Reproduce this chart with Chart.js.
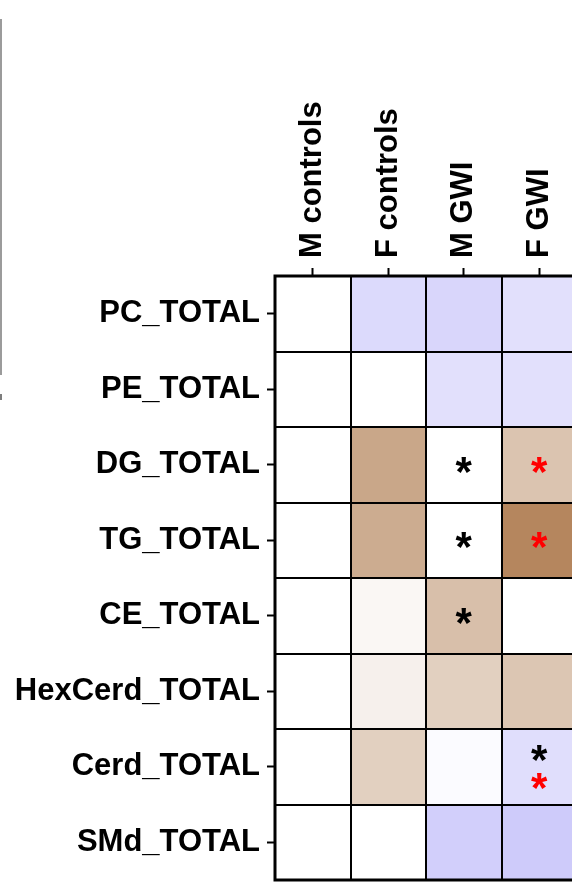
<!DOCTYPE html>
<html>
<head>
<meta charset="utf-8">
<script src="https://cdn.jsdelivr.net/npm/chart.js@4.4.1/dist/chart.umd.min.js"></script>
<style>
  html, body { margin: 0; padding: 0; background: #fff; overflow: hidden; }
  #wrap { position: relative; width: 572px; height: 882px; overflow: hidden; }
  #heat { position: absolute; left: 0; top: 0; }
  .edge { position: absolute; left: 0; width: 2px; }
</style>
</head>
<body>
<div id="wrap">
  <div class="edge" style="top:19px;height:356px;background:#9b9b9b"></div>
  <div class="edge" style="top:394px;height:6px;background:#7d7d7d"></div>
  <canvas id="heat" width="584" height="882"></canvas>
</div>
<script>
// Lipid classes (rows) and groups (columns)
const lipidClasses = ['PC_TOTAL', 'PE_TOTAL', 'DG_TOTAL', 'TG_TOTAL', 'CE_TOTAL', 'HexCerd_TOTAL', 'Cerd_TOTAL', 'SMd_TOTAL'];
const groups = ['M controls', 'F controls', 'M GWI', 'F GWI'];

// Relative change vs. male controls, one array per group (same order as lipidClasses)
const mControls = [0, 0, 0, 0, 0, 0, 0, 0];
const fControls = [-0.57, 0, 0.73, 0.69, 0.07, 0.12, 0.39, 0];
const mGWI      = [-0.63, -0.48, 0, 0, 0.53, 0.39, -0.06, -0.74];
const fGWI      = [-0.48, -0.47, 0.49, 1.0, 0, 0.47, -0.51, -0.80];

// Significance markers per group: black = vs. controls, red = vs. opposite sex
const blackMarks = [[], [], [2, 3, 4], [6]];
const redMarks   = [[], [], [], [2, 3, 6]];

const groupValues = [mControls, fControls, mGWI, fGWI];

const UP = [181, 134, 94];    // colour at +1
const DOWN = [194, 190, 249]; // colour at -1
function cellColor(v) {
  const end = v >= 0 ? UP : DOWN;
  const t = Math.min(1, Math.abs(v));
  const c = end.map(e => Math.round(255 + (e - 255) * t));
  return `rgb(${c[0]},${c[1]},${c[2]})`;
}

const FONT = "'Liberation Sans', Arial, sans-serif";
const LABEL_SIZE = 31;
const LABEL_LINE = 1.2;

const datasets = groupValues.map((vals, c) => ({
  label: groups[c],
  data: lipidClasses.map(() => [c, c + 1]),
  backgroundColor: vals.map(cellColor),
  borderWidth: 0,
  borderSkipped: false,
  grouped: false,
  barPercentage: 1,
  categoryPercentage: 1,
  inflateAmount: 0.5,
  xAxisID: 'x',
  yAxisID: 'y'
}));

// Cell separators and outer frame, placed on the cell edges
const framePlugin = {
  id: 'frame',
  afterDatasetsDraw(chart) {
    const { ctx, chartArea: a } = chart;
    ctx.save();
    ctx.strokeStyle = '#000';
    ctx.lineWidth = 2;
    ctx.beginPath();
    for (let c = 1; c < groups.length; c++) {
      const x = Math.round(chart.getDatasetMeta(c).data[0].base);
      ctx.moveTo(x, a.top);
      ctx.lineTo(x, a.bottom);
    }
    const firstCol = chart.getDatasetMeta(0).data;
    for (let r = 1; r < lipidClasses.length; r++) {
      const bar = firstCol[r];
      const y = Math.round(bar.y - bar.height / 2);
      ctx.moveTo(a.left, y);
      ctx.lineTo(a.right, y);
    }
    ctx.stroke();
    ctx.lineWidth = 3;
    ctx.strokeRect(a.left, a.top, a.right - a.left, a.bottom - a.top);
    ctx.restore();
  }
};

// Asterisks centred on their cells
const starPlugin = {
  id: 'stars',
  afterDatasetsDraw(chart) {
    const { ctx } = chart;
    ctx.save();
    ctx.font = `bold 42px ${FONT}`;
    ctx.textAlign = 'center';
    ctx.textBaseline = 'alphabetic';
    const m = ctx.measureText('*');
    const shift = (m.actualBoundingBoxAscent - m.actualBoundingBoxDescent) / 2;
    groups.forEach((g, c) => {
      const bars = chart.getDatasetMeta(c).data;
      lipidClasses.forEach((name, r) => {
        const hasBlack = blackMarks[c].includes(r);
        const hasRed = redMarks[c].includes(r);
        if (!hasBlack && !hasRed) return;
        const p = bars[r].getCenterPoint();
        const both = hasBlack && hasRed;
        if (hasBlack) {
          ctx.fillStyle = '#000';
          ctx.fillText('*', p.x, p.y + shift - (both ? 14 : 0));
        }
        if (hasRed) {
          ctx.fillStyle = '#ff0000';
          ctx.fillText('*', p.x, p.y + shift + (both ? 14 : 0));
        }
      });
    });
    ctx.restore();
  }
};

new Chart(document.getElementById('heat'), {
  type: 'bar',
  data: { labels: lipidClasses, datasets },
  options: {
    indexAxis: 'y',
    responsive: false,
    devicePixelRatio: 1,
    animation: false,
    layout: { padding: { top: 0, right: 7, bottom: 2, left: 0 } },
    plugins: { legend: { display: false }, tooltip: { enabled: false } },
    scales: {
      x: { type: 'linear', min: 0, max: 4, display: false },
      top: {
        type: 'category',
        position: 'top',
        labels: groups,
        offset: true,
        grid: { display: true, offset: false, drawOnChartArea: false, drawTicks: true, tickLength: 8, tickWidth: 2, tickColor: '#000' },
        border: { display: false },
        ticks: {
          minRotation: 90, maxRotation: 90, padding: 10, color: '#000',
          // rotated labels on a top axis sit one line height before their tick
          labelOffset: LABEL_SIZE * LABEL_LINE,
          font: { family: FONT, weight: 'bold', size: LABEL_SIZE, lineHeight: LABEL_LINE }
        },
        afterFit(s) { s.height = 276; s.paddingLeft = 0; s.paddingRight = 0; }
      },
      y: {
        type: 'category',
        position: 'left',
        offset: true,
        grid: { display: true, offset: false, drawOnChartArea: false, drawTicks: true, tickLength: 8, tickWidth: 2, tickColor: '#000' },
        border: { display: false },
        ticks: { padding: 7, color: '#000', font: { family: FONT, weight: 'bold', size: LABEL_SIZE, lineHeight: LABEL_LINE } },
        afterFit(s) { s.width = 275; s.paddingTop = 0; s.paddingBottom = 0; }
      }
    }
  },
  plugins: [framePlugin, starPlugin]
});
</script>
</body>
</html>
